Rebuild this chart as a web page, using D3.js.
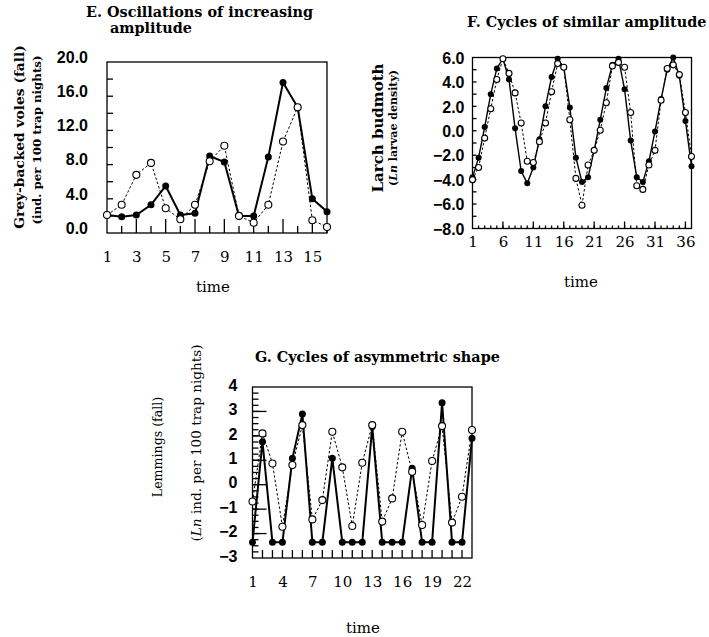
<!DOCTYPE html>
<html>
<head>
<meta charset="utf-8">
<script src="https://cdn.jsdelivr.net/npm/d3@7/dist/d3.min.js"></script>
<style>
  body { margin: 0; background: #fff; }
  text { fill: #000; }
</style>
</head>
<body>
<svg id="vis"></svg>
<script>
const SVG = d3.select('#vis');
const WIDTH = 709;
const HEIGHT = 637;
SVG.attr("width", WIDTH).attr("height", HEIGHT);

// E. grey-backed voles, time 1..16
const eFilled = [2.1, 1.9, 2.1, 3.3, 5.5, 2.1, 2.3, 9.0, 8.3, 2.0, 2.0, 8.9, 17.6, 14.7, 4.0, 2.5];
const eOpen   = [2.1, 3.3, 6.8, 8.2, 2.9, 1.6, 3.3, 8.4, 10.2, 2.0, 1.2, 3.3, 10.7, 14.7, 1.5, 0.7];
const eYLabels = [0, 4, 8, 12, 16, 20];
const eXLabels = [1, 3, 5, 7, 9, 11, 13, 15];

// F. larch budmoth, time 1..37
const fFilled = [-3.8, -2.2, 0.3, 3.0, 5.1, 5.9, 4.2, 0.2, -3.3, -4.3, -3.0, -0.7, 2.0, 4.4, 5.9,
                 5.2, 1.9, -2.2, -4.2, -3.8, -1.6, 0.9, 3.5, 5.4, 5.9, 3.4, -0.8, -3.8, -4.2, -2.5,
                 -0.05, 2.6, 5.0, 6.0, 4.5, 0.8, -2.9];
const fOpen   = [-4.0, -3.0, -0.6, 1.8, 4.2, 5.9, 4.7, 3.1, 0.64, -2.5, -2.6, -0.9, 0.64, 3.2, 5.5,
                 5.2, 0.9, -3.9, -6.1, -2.8, -1.6, 0.04, 2.3, 5.3, 5.6, 5.2, 1.5, -4.5, -4.8, -2.8,
                 -1.6, 2.5, 5.1, 5.4, 4.6, 1.5, -2.1];
const fYLabels = [-8, -6, -4, -2, 0, 2, 4, 6];
const fXLabels = [1, 6, 11, 16, 21, 26, 31, 36];

// G. lemmings, time 1..23
const gFilled = [-2.36, 1.76, -2.36, -2.36, 1.08, 2.89, -2.36, -2.36, 1.08, -2.36, -2.36, -2.36,
                 2.38, -2.36, -2.36, -2.36, 0.67, -2.36, -2.36, 3.36, -2.36, -2.36, 1.9];
const gOpen   = [-0.69, 2.1, 0.87, -1.72, 0.81, 2.44, -1.42, -0.63, 2.17, 0.71, -1.69, 0.9,
                 2.44, -1.51, -0.56, 2.17, 0.53, -1.65, 0.97, 2.4, -1.55, -0.49, 2.24];
const gYLabels = [-3, -2, -1, 0, 1, 2, 3, 4];
const gXLabels = [1, 4, 7, 10, 13, 16, 19, 22];

const SERIF = "'DejaVu Serif', serif";
const SANS = "'Liberation Sans', Arial, sans-serif";

function panel(p) {
  const g = SVG.append("g");
  const n = p.filled.length;
  const x = d3.scaleLinear().domain([1, n]).range([p.left, p.right]);
  const y = d3.scaleLinear().domain(p.yDomain).range([p.bottom, p.top]);

  // frame
  g.append("rect")
    .attr("x", p.left).attr("y", p.top)
    .attr("width", p.right - p.left).attr("height", p.bottom - p.top)
    .attr("fill", "none").attr("stroke", "#000").attr("stroke-width", 1.3);

  // inner ticks, left edge
  p.yTicks.forEach(t => {
    g.append("g").selectAll("line").data(t.values).enter().append("line")
      .attr("x1", p.left).attr("x2", p.left + t.len)
      .attr("y1", d => y(d)).attr("y2", d => y(d))
      .attr("stroke", "#000").attr("stroke-width", 1.3);
  });
  // inner ticks, bottom edge
  p.xTicks.forEach(t => {
    g.append("g").selectAll("line").data(t.values).enter().append("line")
      .attr("x1", d => x(d)).attr("x2", d => x(d))
      .attr("y1", p.bottom).attr("y2", p.bottom - t.len)
      .attr("stroke", "#000").attr("stroke-width", 1.3);
  });

  // tick labels
  const yl = g.append("g").attr("transform", `translate(${p.left},0)`)
    .call(d3.axisLeft(y).tickValues(p.yLabels).tickSize(0).tickPadding(p.yPad).tickFormat(p.yFormat));
  yl.select(".domain").remove();
  yl.selectAll("text").attr("font-family", SANS).attr("font-weight", "bold")
    .attr("font-size", 16).attr("dy", p.yDy);

  const xl = g.append("g").attr("transform", `translate(0,${p.bottom})`)
    .call(d3.axisBottom(x).tickValues(p.xLabels).tickSize(0).tickPadding(p.xPad).tickFormat(d3.format("d")));
  xl.select(".domain").remove();
  xl.selectAll("text").attr("font-family", SERIF).attr("font-size", 15);

  const line = d3.line().x((d, i) => x(i + 1)).y(d => y(d));

  g.append("path").datum(p.open)
    .attr("d", line).attr("fill", "none").attr("stroke", "#000")
    .attr("stroke-width", 1).attr("stroke-dasharray", "2.5,2");
  g.append("path").datum(p.filled)
    .attr("d", line).attr("fill", "none").attr("stroke", "#000")
    .attr("stroke-width", p.solidWidth);

  g.selectAll(".pf").data(p.filled).enter().append("circle")
    .attr("class", "pf")
    .attr("cx", (d, i) => x(i + 1)).attr("cy", d => y(d))
    .attr("r", p.r).attr("fill", "#000");
  g.selectAll(".po").data(p.open).enter().append("circle")
    .attr("class", "po")
    .attr("cx", (d, i) => x(i + 1)).attr("cy", d => y(d))
    .attr("r", p.r).attr("fill", "#fff").attr("stroke", "#000").attr("stroke-width", 1.1);

  // "time"
  g.append("text").attr("x", p.timeX).attr("y", p.timeY)
    .attr("text-anchor", "middle").attr("font-family", SERIF).attr("font-size", 15)
    .text("time");

  // titles
  p.title.forEach(t => {
    g.append("text").attr("x", t.x).attr("y", t.y)
      .attr("font-family", SERIF).attr("font-weight", "bold").attr("font-size", 14.4)
      .text(t.text);
  });

  // y axis titles (rotated)
  p.yTitle.forEach(t => {
    const tx = g.append("text")
      .attr("transform", `translate(${t.x},${t.y}) rotate(-90)`)
      .attr("text-anchor", "middle").attr("font-family", SERIF)
      .attr("font-weight", t.bold ? "bold" : "normal").attr("font-size", t.size);
    t.parts.forEach(s => {
      tx.append("tspan").attr("font-style", s.italic ? "italic" : "normal").text(s.text);
    });
  });
}

panel({
  filled: eFilled, open: eOpen,
  left: 107, right: 327, top: 62, bottom: 233,
  yDomain: [0, 20],
  yTicks: [{ values: [2, 4, 6, 8, 10, 12, 14, 16, 18], len: 6 }],
  xTicks: [{ values: [2, 4, 6, 8, 10, 12, 14, 16], len: 7 },
           { values: [3, 5, 7, 9, 11, 13, 15], len: 14 }],
  yLabels: eYLabels, yFormat: d3.format(".1f"), yPad: 19, yDy: "0.02em",
  xLabels: eXLabels, xPad: 18,
  solidWidth: 2, r: 3.5,
  timeX: 213, timeY: 292,
  title: [{ x: 86, y: 17, text: "E. Oscillations of increasing" },
          { x: 110, y: 33, text: "amplitude" }],
  yTitle: [{ x: 24, y: 137, size: 13.8, bold: true, parts: [{ text: "Grey-backed voles (fall)" }] },
           { x: 41, y: 140, size: 11.8, bold: true, parts: [{ text: "(ind. per 100 trap nights)" }] }]
});

panel({
  filled: fFilled, open: fOpen,
  left: 472.5, right: 691.5, top: 57.5, bottom: 228.5,
  yDomain: [-8, 6],
  yTicks: [{ values: [-7, -6, -5, -4, -3, -2, -1, 0, 1, 2, 3, 4, 5], len: 4 }],
  xTicks: [{ values: d3.range(2, 37), len: 3 },
           { values: [6, 11, 16, 21, 26, 31, 36], len: 7 }],
  yLabels: fYLabels, yFormat: d3.format(".1f"), yPad: 8, yDy: "0.36em",
  xLabels: fXLabels, xPad: 8,
  solidWidth: 1.4, r: 3,
  timeX: 581, timeY: 287,
  title: [{ x: 467, y: 27, text: "F. Cycles of similar amplitude" }],
  yTitle: [{ x: 383, y: 128, size: 15, bold: true, parts: [{ text: "Larch budmoth" }] },
           { x: 397, y: 128, size: 11, bold: true,
             parts: [{ text: "(" }, { text: "Ln", italic: true }, { text: " larvae density)" }] }]
});

panel({
  filled: gFilled, open: gOpen,
  left: 252.5, right: 472, top: 387, bottom: 558,
  yDomain: [-3, 4],
  yTicks: [{ values: d3.range(-2.75, 4, 0.25), len: 6 },
           { values: [-2, -1, 0, 1, 2, 3], len: 14 }],
  xTicks: [{ values: d3.range(2, 23), len: 8 }],
  yLabels: gYLabels, yFormat: d3.format("d"), yPad: 15, yDy: "0.2em",
  xLabels: gXLabels, xPad: 18,
  solidWidth: 2, r: 3.5,
  timeX: 363, timeY: 633,
  title: [{ x: 255, y: 362, text: "G. Cycles of asymmetric shape" }],
  yTitle: [{ x: 162, y: 447, size: 12.6, bold: false, parts: [{ text: "Lemmings (fall)" }] },
           { x: 201, y: 443, size: 13.6, bold: false,
             parts: [{ text: "(" }, { text: "Ln", italic: true }, { text: " ind. per 100 trap nights)" }] }]
});
</script>
</body>
</html>
